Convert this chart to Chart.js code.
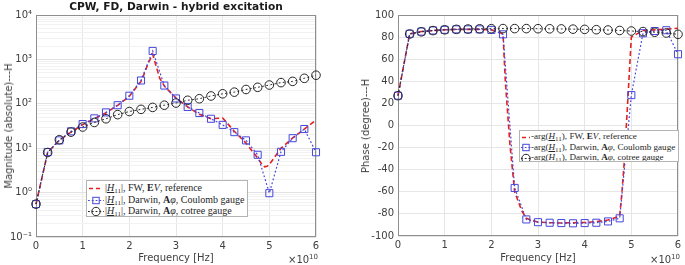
<!DOCTYPE html>
<html><head><meta charset="utf-8">
<script src="https://cdn.jsdelivr.net/npm/chart.js@4"></script>
<style>
body{margin:0;background:#fff;width:685px;height:265px;overflow:hidden;position:relative;font-family:'DejaVu Sans',sans-serif;}
canvas{position:absolute;top:0;}
#c1{left:0} #c2{left:345px}
.t{position:absolute;color:#404040;font-size:10px;white-space:nowrap;line-height:1;}
.rot{transform:translate(-50%,-50%) rotate(-90deg);}
.ctr{transform:translate(-50%,-50%);}
.legend{position:absolute;background:#fff;border:1px solid #b4b4b4;font-family:'Liberation Serif',serif;color:#262626;box-sizing:border-box;overflow:hidden;}
.legend .row{position:absolute;left:0;display:flex;align-items:center;white-space:nowrap;}
.legend svg{flex:none;}
.u{text-decoration:underline;text-underline-offset:1px;text-decoration-thickness:0.6px;}
sub{font-size:7px;vertical-align:-2px;}
</style></head>
<body>
<canvas id="c1" width="345" height="265"></canvas>
<canvas id="c2" width="340" height="265"></canvas>
<div class="t" style="left:0;width:352px;top:1px;text-align:center;font-weight:bold;font-size:10.6px;color:#1a1a1a;">CPW, FD, Darwin - hybrid excitation</div>
<div class="t rot" style="left:9px;top:126px;">Magnitude (absolute)---H</div>
<div class="t rot" style="left:366px;top:126px;">Phase (degree)---H</div>
<div class="t ctr" style="left:176px;top:258px;">Frequency [Hz]</div>
<div class="t ctr" style="left:538px;top:258px;">Frequency [Hz]</div>
<div class="t" style="left:288px;top:254px;">×10<sup style="font-size:7px;">10</sup></div>
<div class="t" style="left:650px;top:254px;">×10<sup style="font-size:7px;">10</sup></div>
<div class="legend" id="lg1" style="left:86px;top:180px;width:162px;height:37px;font-size:10px;"></div>
<div class="legend" id="lg2" style="left:519px;top:130px;width:160px;height:32px;font-size:9.1px;"></div>
<script>
// ---- data (frequency in units of 1e10 Hz) ----
const freq = [0,0.25,0.5,0.75,1,1.25,1.5,1.75,2,2.25,2.5,2.75,3,3.25,3.5,3.75,4,4.25,4.5,4.75,5,5.25,5.5,5.75,6];
const magCoulomb = [0.55,8.2,15,24,35,47,64,93,152,335,1550,258,132,85,62,46,33.5,23,15,7.1,0.97,8.3,16.8,27,8.1];
const magCotree  = [0.55,8,15.5,23,30,38,46,57,67,75,83,93,104,120,130,150,168,183,210,235,265,300,320,375,440];
const phaseCoulomb = [27,83,85,86,86.6,87,87,87,86.5,82.5,-56.5,-85,-87.5,-88,-88.3,-88.5,-88.3,-88,-86.8,-84,27.5,83.5,85.5,86.2,64.5];
const phaseCotree  = [27,82.8,84.8,85.9,86.6,87,87.3,87.5,87.6,87.7,87.7,87.7,87.6,87.5,87.4,87.2,87,86.7,86.4,86,85.5,85,84.4,83.7,82.5];
const freqRef  = [0,0.25,0.5,0.75,1,1.25,1.5,1.75,2,2.25,2.3,2.4,2.5,2.65,2.75,3,3.25,3.5,3.75,4,4.25,4.5,4.75,4.8,4.85,4.9,4.95,5,5.25,5.5,5.75,6];
const magRef   = [0.55,8,15,23,34,46,63,92,148,320,420,800,1300,380,250,135,85,58,46,48,24,13,6,5,4.2,3.8,3.9,4.3,10,17,27,43];
const phaseRef = [27,83,85,86,86.6,87,87,87,86.6,83,40,-18,-60,-77,-84,-87.5,-88,-88.2,-88,-87.8,-87,-85.5,-82,-60,-32,5,42,80,86,86.5,87.2,88];
const magTickValues = [0.1,1,10,100,1000,10000];
const magTickLabels = ['10⁻¹','10⁰','10¹','10²','10³','10⁴'];
const legendMag = [
  '|<i class="u">H</i><sub>11</sub>|, FW, <b>E</b><i>V</i>, reference',
  '|<i class="u">H</i><sub>11</sub>|, Darwin, <b>A</b><i>φ</i>, Coulomb gauge',
  '|<i class="u">H</i><sub>11</sub>|, Darwin, <b>A</b><i>φ</i>, cotree gauge'];
const legendPhase = [
  '-arg(<i class="u">H</i><sub>11</sub>), FW, <b>E</b><i>V</i>, reference',
  '-arg(<i class="u">H</i><sub>11</sub>), Darwin, <b>A</b><i>φ</i>, Coulomb gauge',
  '-arg(<i class="u">H</i><sub>11</sub>), Darwin, <b>A</b><i>φ</i>, cotree gauge'];

const RED='#e3211f', BLUE='#4646dc', BLACK='#262626';
const pts=(xs,ys)=>xs.map((x,i)=>({x:x,y:ys[i]}));

function datasets(refY, coulY, cotY){
  return [
    {label:'ref', data:pts(freqRef,refY), borderColor:RED, borderWidth:1.6, borderDash:[5,3], pointRadius:0, order:2, clip:false, tension:0},
    {label:'coul', data:pts(freq,coulY), borderColor:BLUE, borderWidth:1.2, borderDash:[1.8,2.2], pointStyle:'rect', pointRadius:5, pointBorderColor:BLUE, pointBackgroundColor:'rgba(255,255,255,0)', pointBorderWidth:1, order:1, clip:false},
    {label:'cot', data:pts(freq,cotY), borderColor:BLACK, borderWidth:1, borderDash:[1.8,2.4], pointStyle:'circle', pointRadius:4.3, pointBorderColor:BLACK, pointBackgroundColor:'rgba(255,255,255,0)', pointBorderWidth:1, order:0, clip:false}
  ];
}
const frame={id:'frame',beforeDatasetsDraw(chart){const {ctx,chartArea:a}=chart;ctx.save();ctx.strokeStyle='#8f8f8f';ctx.lineWidth=1;ctx.strokeRect(Math.round(a.left)+0.5,Math.round(a.top)+0.5,Math.round(a.right-a.left)-1,Math.round(a.bottom-a.top)-1);ctx.restore();}};
const tickFont={family:'DejaVu Sans',size:10};
function xScale(h){return {type:'linear',min:0,max:6,ticks:{stepSize:1,color:'#404040',font:tickFont,padding:3,maxRotation:0,autoSkip:false},grid:{color:'#e6e6e6',drawTicks:false},border:{display:false},afterFit:s=>{s.height=h;}};}
const base={responsive:false,animation:false,events:[],plugins:{legend:{display:false},tooltip:{enabled:false}}};

new Chart(document.getElementById('c1'),{type:'line',
  data:{datasets:datasets(magRef,magCoulomb,magCotree)},
  options:Object.assign({},base,{
    layout:{padding:{left:0,top:15,right:29,bottom:0}},
    scales:{
      x:xScale(28),
      y:{type:'logarithmic',min:0.1,max:10000,
        afterBuildTicks:ax=>{const t=[];magTickValues.forEach((v,i)=>{t.push({value:v,major:true});if(i<magTickValues.length-1){for(let k=2;k<10;k++)t.push({value:v*k,major:false});}});ax.ticks=t;},
        ticks:{autoSkip:false,color:'#404040',font:tickFont,padding:4,callback:(v)=>{const i=magTickValues.findIndex(m=>Math.abs(m-v)/m<1e-6);return i>=0?magTickLabels[i]:'';}},
        grid:{drawTicks:false,color:c=>c.tick&&c.tick.major?'#e2e2e2':'#f2f2f2'},border:{display:false},
        afterFit:s=>{s.width=36;}}
    }}),
  plugins:[frame]});

new Chart(document.getElementById('c2'),{type:'line',
  data:{datasets:datasets(phaseRef,phaseCoulomb,phaseCotree)},
  options:Object.assign({},base,{
    layout:{padding:{left:0,top:15,right:7,bottom:0}},
    scales:{
      x:xScale(29),
      y:{type:'linear',min:-100,max:100,ticks:{stepSize:20,color:'#404040',font:tickFont,padding:4,autoSkip:false},
        grid:{drawTicks:false,color:'#e6e6e6'},border:{display:false},afterFit:s=>{s.width=53;}}
    }}),
  plugins:[frame]});

// legends
function sample(kind,w){
  const c=w/2;
  if(kind===0) return `<svg width="${w}" height="11"><line x1="1" y1="5.5" x2="${w-1}" y2="5.5" stroke="${RED}" stroke-width="1.6" stroke-dasharray="4,3"/></svg>`;
  if(kind===1) return `<svg width="${w}" height="11"><line x1="0" y1="5.5" x2="${w}" y2="5.5" stroke="${BLUE}" stroke-width="1.1" stroke-dasharray="1.8,2"/><rect x="${c-3.2}" y="2.3" width="6.4" height="6.4" fill="none" stroke="${BLUE}" stroke-width="1"/></svg>`;
  return `<svg width="${w}" height="11"><line x1="0" y1="5.5" x2="${w}" y2="5.5" stroke="${BLACK}" stroke-width="1" stroke-dasharray="1.8,2"/><circle cx="${c}" cy="5.5" r="4.2" fill="none" stroke="${BLACK}" stroke-width="1"/></svg>`;
}
function buildLegend(id,texts,top0,step,sw,gap){
  const el=document.getElementById(id);
  texts.forEach((t,i)=>{const r=document.createElement('div');r.className='row';r.style.top=(top0+i*step)+'px';r.style.left='1px';
    r.innerHTML=sample(i,sw)+`<span style="margin-left:${gap}px">${t}</span>`;el.appendChild(r);});
}
buildLegend('lg1',legendMag,1,11.5,16,1);
buildLegend('lg2',legendPhase,0,10.5,10,0);
</script>
</body></html>
